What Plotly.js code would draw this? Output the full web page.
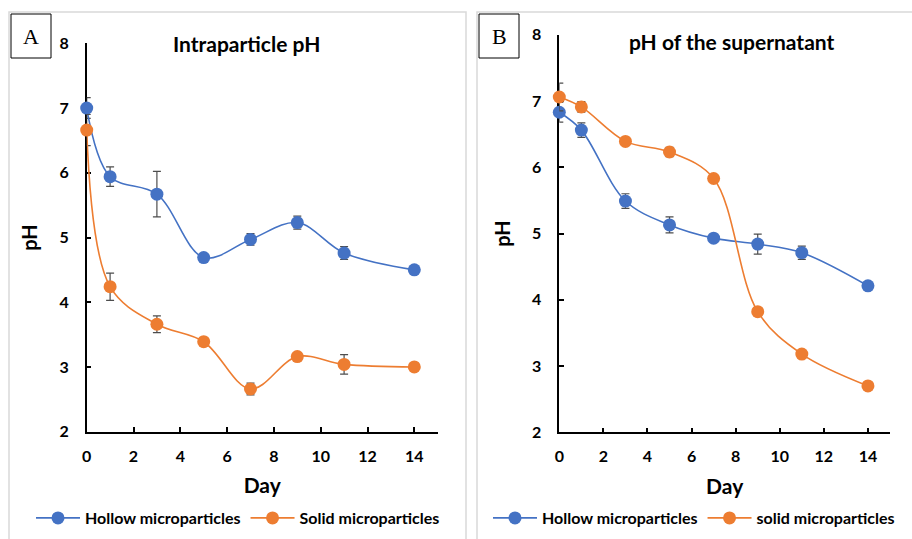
<!DOCTYPE html>
<html>
<head>
<meta charset="utf-8">
<script src="https://cdn.plot.ly/plotly-3.0.1.min.js"></script>
<style>html,body{margin:0;padding:0;background:#fff;}#chart{width:912px;height:539px;}</style>
</head>
<body>
<div id="chart"></div>
<script>
// ---- Data ----
const days = [0, 1, 3, 5, 7, 9, 11, 14];

// Panel A: Intraparticle pH
const aHollow = [7.00, 5.94, 5.67, 4.69, 4.97, 5.23, 4.76, 4.50];
const aHollowErr = [0.16, 0.15, 0.35, 0.04, 0.09, 0.10, 0.10, 0.03];
const aSolid = [6.66, 4.24, 3.66, 3.39, 2.66, 3.16, 3.04, 3.00];
const aSolidErr = [0.24, 0.21, 0.13, 0.03, 0.09, 0.05, 0.15, 0.03];

// Panel B: pH of the supernatant
const bHollow = [6.83, 6.56, 5.49, 5.13, 4.93, 4.84, 4.71, 4.21];
const bHollowErr = [0.15, 0.11, 0.11, 0.12, 0.04, 0.15, 0.10, 0.03];
const bSolid = [7.06, 6.91, 6.39, 6.23, 5.83, 3.82, 3.18, 2.70];
const bSolidErr = [0.21, 0.08, 0.03, 0.07, 0.03, 0.05, 0.03, 0.03];

const titleA = "Intraparticle pH";
const titleB = "pH of the supernatant";
const nameHollow = "Hollow microparticles";
const nameSolidA = "Solid microparticles";
const nameSolidB = "solid microparticles";

// ---- Style ----
const W = 912, H = 539;
const px = v => v / W;
const py = v => 1 - v / H;
const BLUE = "#4472C4", ORANGE = "#ED7D31", ERR = "#4d4d4d";
const FONT = "Lato, 'Open Sans', sans-serif";

function tr(x, y, err, name, color, xa, ya, leg) {
  return {
    x: x, y: y, name: name, type: "scatter", mode: "lines+markers",
    xaxis: xa, yaxis: ya, legend: leg, cliponaxis: false,
    line: {color: color, width: 1.6, shape: "spline", smoothing: 1},
    marker: {color: color, size: 13, symbol: "circle"},
    error_y: {type: "data", array: err, visible: true, color: ERR, thickness: 1.2, width: 4}
  };
}

const traces = [
  tr(days, aHollow, aHollowErr, nameHollow, BLUE, "x", "y", "legend"),
  tr(days, aSolid, aSolidErr, nameSolidA, ORANGE, "x", "y", "legend"),
  tr(days, bHollow, bHollowErr, nameHollow, BLUE, "x2", "y2", "legend2"),
  tr(days, bSolid, bSolidErr, nameSolidB, ORANGE, "x2", "y2", "legend2")
];

function xax(dom, anchor) {
  return {
    domain: dom, anchor: anchor, range: [0, 15], tickmode: "linear", tick0: 0, dtick: 2,
    showline: true, linecolor: "#000", linewidth: 1.5, ticks: "inside", ticklen: 5,
    tickwidth: 1.5, tickcolor: "#000", showgrid: false, zeroline: false, layer: "below traces",
    tickfont: {family: FONT, size: 16, color: "#000", weight: "bold"},
    ticklabelstandoff: 9,
    title: {text: "<b>Day</b>", font: {family: FONT, size: 21, color: "#000"}, standoff: 15},
    fixedrange: true
  };
}
function yax(dom, anchor) {
  return {
    domain: dom, anchor: anchor, range: [2, 8], tickmode: "linear", tick0: 2, dtick: 1,
    showline: true, linecolor: "#000", linewidth: 1.5, ticks: "inside", ticklen: 5,
    tickwidth: 1.5, tickcolor: "#000", showgrid: false, zeroline: false, layer: "below traces",
    tickfont: {family: FONT, size: 16, color: "#000", weight: "bold"},
    ticklabelstandoff: 13,
    title: {text: "<b>pH</b>", font: {family: FONT, size: 20, color: "#000"}, standoff: 16},
    fixedrange: true
  };
}

const legFont = {family: FONT, size: 16, color: "#000", weight: "bold"};
const layout = {
  width: W, height: H,
  margin: {l: 0, r: 0, t: 0, b: 0},
  paper_bgcolor: "#fff", plot_bgcolor: "rgba(0,0,0,0)",
  showlegend: true,
  xaxis: xax([px(86.7), px(437.7)], "y"),
  yaxis: yax([py(431.7), py(43.3)], "x"),
  xaxis2: xax([px(559.3), px(890)], "y2"),
  yaxis2: yax([py(432.3), py(34.7)], "x2"),
  legend: {
    orientation: "h", x: px(31), y: py(518), xanchor: "left", yanchor: "middle",
    itemwidth: 44, font: legFont,
    bgcolor: "rgba(0,0,0,0)", itemclick: false, itemdoubleclick: false
  },
  legend2: {
    orientation: "h", x: px(488), y: py(518), xanchor: "left", yanchor: "middle",
    itemwidth: 44, font: legFont,
    bgcolor: "rgba(0,0,0,0)", itemclick: false, itemdoubleclick: false
  },
  shapes: [
    {type: "rect", xref: "paper", yref: "paper", x0: px(9), x1: px(466), y0: py(545), y1: py(12),
     line: {color: "#d9d9d9", width: 1.5}, fillcolor: "rgba(0,0,0,0)", layer: "below"},
    {type: "rect", xref: "paper", yref: "paper", x0: px(477), x1: px(918), y0: py(545), y1: py(12),
     line: {color: "#d9d9d9", width: 1.5}, fillcolor: "rgba(0,0,0,0)", layer: "below"},
    {type: "rect", xref: "paper", yref: "paper", x0: px(11), x1: px(51), y0: py(58), y1: py(14),
     line: {color: "#000", width: 1}, fillcolor: "#fff", layer: "below"},
    {type: "rect", xref: "paper", yref: "paper", x0: px(479), x1: px(519), y0: py(58), y1: py(14),
     line: {color: "#000", width: 1}, fillcolor: "#fff", layer: "below"}
  ],
  annotations: [
    {text: "A", xref: "paper", yref: "paper", x: px(31), y: py(37), showarrow: false,
     xanchor: "center", yanchor: "middle",
     font: {family: "'Liberation Serif', 'Times New Roman', serif", size: 22, color: "#000"}},
    {text: "B", xref: "paper", yref: "paper", x: px(499), y: py(37), showarrow: false,
     xanchor: "center", yanchor: "middle",
     font: {family: "'Liberation Serif', 'Times New Roman', serif", size: 22, color: "#000"}},
    {text: "<b>" + titleA + "</b>", xref: "paper", yref: "paper", x: px(247), y: py(44), showarrow: false,
     xanchor: "center", yanchor: "middle", font: {family: FONT, size: 21, color: "#000"}},
    {text: "<b>" + titleB + "</b>", xref: "paper", yref: "paper", x: px(731), y: py(41), showarrow: false,
     xanchor: "center", yanchor: "middle", font: {family: FONT, size: 21, color: "#000"}}
  ]
};

Plotly.newPlot("chart", traces, layout, {displayModeBar: false});
</script>
</body>
</html>
